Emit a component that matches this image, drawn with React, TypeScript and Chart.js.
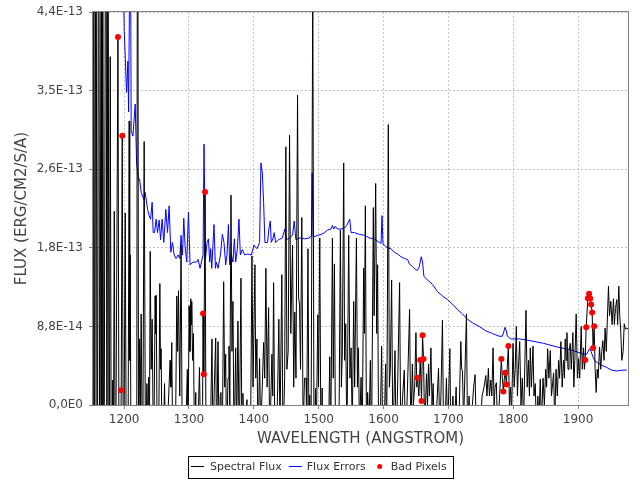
import React, { useEffect, useRef } from "react";
import { Chart, registerables } from "chart.js";

Chart.register(...registerables);

const FONT = "'DejaVu Sans', 'Liberation Sans', sans-serif";

const SERIES_NAMES = ["Spectral Flux", "Flux Errors", "Bad Pixels"];
const X_TITLE = "WAVELENGTH (ANGSTROM)";
const Y_TITLE = "FLUX (ERG/CM2/S/A)";

const X_MIN = 1152;
const X_MAX = 1977;
const X_TICKS = [1200, 1300, 1400, 1500, 1600, 1700, 1800, 1900];
// flux values below are in units of 1E-14 erg/cm2/s/A
const Y_MIN = 0;
const Y_MAX = 44;
const Y_TICKS = [0, 8.8, 17.6, 26.4, 35.2, 44];
const Y_TICK_LABELS = ["0,0E0", "8,8E-14", "1,8E-13", "2,6E-13", "3,5E-13", "4,4E-13"];

// [wavelength, flux]
const SPECTRAL_FLUX: [number, number][] = [
  [1152, -20], [1153.1, 80], [1154.5, -30], [1156.6, 80], [1158.5, -30], [1160.8, 80], [1162.5, -30],
  [1164.8, 80], [1165.8, -20], [1166.9, 80], [1168.5, -30], [1172, 80], [1173.5, -20], [1175.1, 80],
  [1176.8, -25], [1178.6, 39], [1180.5, -20], [1182.3, 2.8], [1183.3, -10], [1184.8, 21.7], [1186.5, -15],
  [1190.5, 41.2], [1192.5, -20], [1195.5, 1.66], [1197.1, 30.2], [1199, -15], [1201.7, 21.5], [1203.5, -10],
  [1205.8, -10], [1207.8, 31.8], [1208.6, 5], [1209.4, 16.8], [1211, -15], [1219.2, -20], [1220.8, 80],
  [1222.3, -10], [1223.8, 7.4], [1225, 0], [1226.3, 10.2], [1228.5, -10], [1230.9, 29.5], [1233, -8],
  [1235.1, 2.4], [1236.5, -3], [1237.7, 3.1], [1239, -5], [1240.2, 17.2], [1241.7, 4], [1243.2, 9.6],
  [1245.5, -8], [1247.8, 12.2], [1248.6, 8], [1249.4, 12.3], [1251.5, -10], [1253.5, -2], [1255.1, 13.6],
  [1256.1, 4], [1257.1, 6.3], [1259, -10], [1262.3, 2.4], [1264, -5], [1267, -2], [1270.9, 5.0],
  [1272.2, 2], [1273.5, 7.0], [1275.5, -10], [1279, -5], [1281.2, 12.2], [1282.5, 6], [1283.8, 12.8],
  [1285.8, 1], [1287.8, 17.9], [1290, -10], [1295, -3], [1297.5, 4], [1298.5, -5], [1300.2, 11.1],
  [1301.5, 6], [1302.8, 11.9], [1303.5, 9], [1304.3, 11.6], [1305.5, 5], [1306.9, 8.0], [1308.5, -5],
  [1310.5, 1.4], [1312, -8], [1316.2, 4.2], [1318, -5], [1320.5, -8], [1321.7, 10.25], [1322.8, 3.43],
  [1324.8, 23.85], [1326.5, -10], [1329, -3], [1331, -8], [1333.3, -2], [1335.5, 7.4], [1337, -5],
  [1339, 2], [1341.2, 7.5], [1342.5, -5], [1344.8, 7.1], [1346.5, -5], [1348.2, 1], [1349.4, 1.4],
  [1351, -8], [1353.5, 13.8], [1355, 2], [1356.6, 5.7], [1358, -5], [1360.2, 3], [1361.7, 6.6],
  [1363, 0], [1364.8, 23.5], [1366.3, 6], [1367.8, 11.6], [1369.5, -5], [1372, 6.4], [1373.5, -3],
  [1375.5, 9.4], [1377.5, -5], [1380.2, 14.2], [1381.8, -8], [1383.2, 1.3], [1385, -5], [1389.4, 0.6],
  [1391, -5], [1395, -3], [1397.1, 16.7], [1398.8, 2], [1401.7, 15.7], [1403, 3], [1404.8, 7.4],
  [1406.5, -5], [1408.9, 5.2], [1410.5, -3], [1413, 2], [1415.1, 7.0], [1416.8, 3], [1418.6, 15.3],
  [1420.5, 2], [1422.8, 10.9], [1424.5, -5], [1426, 0], [1427.9, 5.7], [1429.2, 1], [1430.5, 13.7],
  [1432.5, -5], [1435, -3], [1436.8, 2], [1438.6, 9.6], [1440.3, -3], [1443.2, 14.6], [1445, -5],
  [1447.5, 3], [1449.4, 28.9], [1451, 4], [1453, 6], [1455.1, 30.2], [1457, 8], [1459.7, 17.9],
  [1461.5, 2], [1463.2, 10.4], [1465, 3], [1467.4, 34.7], [1469, 12], [1470.5, 11.3], [1472, 4],
  [1474, 21.0], [1476, -3], [1478.2, 3], [1480.5, 3], [1481.5, -2], [1483.5, 17.5], [1485, -3],
  [1486.3, 1.1], [1488, -8], [1490.9, 47], [1493, -10], [1495.1, 1.9], [1496.5, -3], [1498.6, 10.1],
  [1499.8, 2], [1501.7, 18.7], [1503.5, -5], [1505.4, 1.9], [1507, -8], [1510, -3], [1513, -6],
  [1515.5, -2], [1517.1, 5.4], [1518.5, -5], [1521.2, 18.7], [1522.5, 3], [1524.3, 15.8], [1526, -5],
  [1529, -2], [1531, -6], [1533.5, 19.6], [1535, 2], [1536.5, 6], [1538.6, 27.1], [1540, 5],
  [1541.7, 9.1], [1543.5, -5], [1546.3, 19.0], [1548.2, 3], [1550, 6.4], [1551.8, -3], [1554, 11.6],
  [1555.5, 2], [1558.2, 18.7], [1559.8, 2], [1561.2, 6.4], [1563, -3], [1565.4, 3.1], [1567, -5],
  [1569.4, 15.3], [1570.5, 8], [1572, 22.3], [1573.8, -5], [1575.5, 1.4], [1577.5, -3], [1579.7, 5.0],
  [1581.5, -5], [1584.3, 22.1], [1585.5, 10], [1587.9, 24.8], [1589.5, 8], [1590.9, 15.7], [1592.5, -5],
  [1595, -2], [1597.1, 6.6], [1599, -5], [1601, -3], [1603.2, 4.6], [1604.8, -5], [1607.4, 31.4],
  [1609, 2], [1610.5, 4], [1612.5, 14.0], [1614.5, -5], [1617.7, 6.1], [1619.5, -5], [1622, 3],
  [1624.8, 13.7], [1626.5, -3], [1629.5, 1], [1632, 3.9], [1634, -5], [1637, 2], [1640.2, 10.7],
  [1642, -3], [1644.5, 4.6], [1646, 0], [1648, 2], [1650, 8.1], [1651.3, 2], [1652.5, 3.06],
  [1654.5, 1], [1656.6, 5.05], [1658.6, 0.44], [1660.2, 7.82], [1661.7, 5.16], [1663.5, -3], [1666.3, 3.5],
  [1667.8, 0], [1669.4, 4.6], [1670.8, 1], [1673.1, 6.4], [1674.8, 0], [1676.6, 2.4], [1678.5, -5],
  [1681, -2], [1684.8, 4.1], [1686.8, -3], [1688.5, 1], [1690.9, 9.5], [1692.8, -5], [1695, -2],
  [1697, 3], [1699, -3], [1702.3, 6.3], [1704, -5], [1707, 1], [1709, -3], [1712, 2], [1714, -5],
  [1716, -3], [1719.2, 7.1], [1720.5, 4], [1721.7, 3.9], [1723.5, -2], [1727.9, 10.2], [1729.5, -3],
  [1732, 1], [1734, -4], [1737, 0], [1739, 2], [1741.2, 3.4], [1743, -3], [1746, -1], [1749, -3],
  [1752, 1], [1755, 2], [1757.7, 3.3], [1759.5, 1], [1761.7, 4.1], [1763.3, 1], [1765.4, 2.8],
  [1767, 1], [1768.9, 6.4], [1770.5, 0], [1772, 2], [1774, 2.5], [1776, -3], [1779, 1], [1781.7, 5.16],
  [1783.2, 3], [1784.8, 1.51], [1786.3, 3], [1787.8, 3.62], [1789.4, 2.29], [1792.5, 6.6], [1794.2, 0],
  [1796, 2], [1797.5, -1], [1799.7, 6.9], [1801.5, 2], [1803, 4], [1804.8, 8.8], [1806.5, 1],
  [1808, 4], [1810, 7.1], [1812, 0], [1814, 3], [1816, -2], [1819.7, 10.6], [1821.5, 2], [1823.5, 5],
  [1825, 1], [1826.3, 6.4], [1828, 2], [1830.5, 6.6], [1832, 1], [1834, 2.4], [1835.8, -3], [1838, 1],
  [1839.5, -2], [1841.7, 2.9], [1843.5, -2], [1846, 3], [1848, 0], [1850, 4], [1851.5, 2], [1853.1, 6.3],
  [1855, 3], [1857.1, 6.1], [1859, 1], [1862.3, 3.6], [1864, -2], [1866, 4], [1868, 1], [1870, 5],
  [1871.5, 3], [1873.5, 7.1], [1875.5, 2], [1877.5, 5], [1879, 3], [1880.2, 7.4], [1881.5, 5],
  [1882.8, 8.1], [1884.5, 4], [1886, 6], [1887.9, 6.9], [1889.5, 4], [1892, 8.1], [1893.5, 2],
  [1895, 5], [1897.1, 10.2], [1899, 3], [1900.8, 5.2], [1902.5, 3], [1904.8, 8.8], [1906.5, 4],
  [1908.5, 6.4], [1909.8, 4], [1911, 5.05], [1912.5, 8.7], [1915.1, 11.94], [1917.1, 12.46],
  [1918.6, 11.91], [1920.2, 11.24], [1921.7, 10.36], [1923.2, 6.38], [1924.8, 8.81], [1926.3, 4],
  [1927.9, 1.4], [1929.5, 4], [1931, 3], [1933.1, 6.5], [1935, 4], [1936.5, 6], [1938.2, 7.2],
  [1940, 5], [1941.7, 8.6], [1943.5, 6], [1946.9, 13.3], [1948.5, 10], [1950.5, 11.6], [1952.5, 9],
  [1954.6, 11.9], [1956, 9], [1957.7, 10.8], [1959.7, 11.8], [1961, 9], [1962.8, 13.3], [1964.3, 10],
  [1965.9, 8.1], [1967.5, 5], [1969.5, 6], [1971.2, 9.1], [1972.8, 8.5], [1975.3, 8.6], [1977, 8.5],
];

// [wavelength, flux error]
const FLUX_ERRORS: [number, number][] = [
  [1198.6, 60], [1199.2, 46], [1200.2, 41.8], [1203.8, 35.0], [1205.8, 38.5], [1206.9, 32.8],
  [1208.5, 48], [1210, 50], [1210.9, 30.7], [1213.5, 30.1], [1217.1, 33.7], [1219.2, 27.1],
  [1222.3, 25.2], [1223.8, 25.3], [1226.3, 23.8], [1230.5, 23.0], [1232.5, 23.8], [1236.2, 21.9],
  [1238.6, 21.2], [1240.8, 20.8], [1243.2, 22.7], [1244.8, 19.3], [1246.9, 19.3], [1249.4, 20.8],
  [1251.5, 19.3], [1254, 20.7], [1256.2, 18.5], [1258.6, 20.8], [1261.2, 18.2], [1264.3, 21.9],
  [1266.9, 19.3], [1269.4, 22.3], [1272, 17.1], [1274.6, 18.2], [1277.1, 16.8], [1280.2, 16.4],
  [1283.2, 16.8], [1285.8, 16.4], [1287.8, 19.0], [1290, 16.8], [1292, 20.9], [1294, 17.7],
  [1296.6, 16.0], [1299.2, 21.6], [1301.7, 15.7], [1306.3, 16.0], [1311.5, 16.0], [1314, 16.3],
  [1317.1, 15.3], [1321.7, 16.8], [1323.2, 29.2], [1325.4, 16.4], [1327.9, 18.2], [1330, 18.6],
  [1332, 16.0], [1333.5, 17.5], [1335.1, 15.3], [1338.6, 20.2], [1340.8, 15.3], [1342.3, 16.0],
  [1344.8, 15.3], [1348.5, 16.8], [1351.5, 19.1], [1354, 18.2], [1356.6, 15.7], [1358.6, 16.8],
  [1360.8, 20.2], [1362.8, 15.7], [1365.4, 16.8], [1367.8, 16.0], [1370, 18.6], [1372, 16.0],
  [1374.6, 17.5], [1377.1, 20.8], [1379.2, 16.8], [1382.3, 17.4], [1385.8, 16.8], [1390.5, 16.9],
  [1396.2, 16.8], [1400.2, 17.9], [1404.8, 17.5], [1408.9, 18.2], [1410.9, 27.1], [1413.1, 26.0],
  [1415.1, 22.7], [1417.1, 18.2], [1421.2, 18.2], [1423.2, 19.7], [1425.4, 20.6], [1426.9, 18.2],
  [1429.4, 18.6], [1431.5, 19.3], [1433.5, 18.2], [1438.2, 18.5], [1443.9, 18.7], [1447.9, 19.7],
  [1450, 18.5], [1455.1, 18.7], [1459.7, 19.0], [1462.3, 20.6], [1464.8, 18.5], [1470.5, 18.7],
  [1478.2, 18.6], [1485.8, 18.7], [1488.9, 19.0], [1490, 26.0], [1491.5, 18.8], [1498.6, 19.0],
  [1503.8, 19.1], [1508.9, 19.3], [1514, 19.6], [1519.2, 19.7], [1521.2, 20.1], [1523.2, 19.7],
  [1525.4, 20.0], [1528.9, 19.7], [1534.6, 19.7], [1539.7, 19.8], [1543.2, 20.1], [1547.9, 20.8],
  [1550, 19.3], [1555.1, 19.3], [1562.8, 19.1], [1570.5, 19.0], [1578.2, 18.7], [1585.8, 18.6],
  [1593.5, 18.2], [1596.2, 18.1], [1597.7, 21.2], [1599.2, 18.0], [1601.2, 17.9], [1606.3, 17.6],
  [1611.5, 17.5], [1616.6, 17.1], [1621.7, 16.9], [1626.9, 16.6], [1632, 16.4], [1637.1, 16.3],
  [1639.7, 15.8], [1644.8, 15.5], [1650, 15.1], [1652.5, 15.1], [1655.1, 15.5], [1658.2, 16.6],
  [1660.2, 16.0], [1662.3, 14.4], [1667.9, 14.0], [1675.5, 13.5], [1683.2, 12.7], [1690.9, 12.2],
  [1698.6, 11.8], [1706.3, 11.3], [1714, 10.7], [1721.7, 10.2], [1729.4, 9.6], [1737.1, 9.2],
  [1747.4, 8.8], [1757.7, 8.3], [1768, 8.0], [1778.2, 7.7], [1783.3, 7.7], [1785.9, 8.3],
  [1787.4, 8.7], [1789.4, 8.3], [1791, 7.7], [1796.2, 7.4], [1808.9, 7.4], [1826.3, 7.2],
  [1846.9, 6.9], [1867.4, 6.5], [1887.9, 6.2], [1908.5, 5.7], [1913.5, 5.7], [1917.7, 6.3],
  [1920.2, 6.0], [1922.8, 5.4], [1926.3, 4.9], [1935.1, 4.5], [1944.3, 4.2], [1952, 3.9],
  [1959.7, 3.8], [1967.4, 3.9], [1975.1, 3.9],
];

// [wavelength, flux]
const BAD_PIXELS: [number, number][] = [
  [1190.5, 41.2], [1197.1, 30.15], [1195.5, 1.66], [1324.8, 23.85], [1321.7, 10.25], [1322.8, 3.43],
  [1660.2, 7.82], [1656.6, 5.05], [1661.7, 5.16], [1652.5, 3.06], [1658.6, 0.44],
  [1781.7, 5.16], [1792.5, 6.6], [1787.8, 3.62], [1789.4, 2.29], [1784.8, 1.51],
  [1917.1, 12.46], [1915.1, 11.94], [1918.6, 11.91], [1920.2, 11.24], [1921.7, 10.36],
  [1912.5, 8.7], [1924.8, 8.81], [1923.2, 6.38], [1911, 5.05],
];

const toXY = (arr: [number, number][]) => arr.map(([x, y]) => ({ x, y }));

const outlinePlugin = {
  id: "plotOutline",
  afterDraw(chart: any) {
    const { ctx, chartArea } = chart;
    ctx.save();
    ctx.strokeStyle = "#808080";
    ctx.lineWidth = 1;
    ctx.strokeRect(
      Math.round(chartArea.left) - 0.5,
      Math.round(chartArea.top) - 0.5,
      Math.round(chartArea.right - chartArea.left) + 1,
      Math.round(chartArea.bottom - chartArea.top) + 1
    );
    ctx.restore();
  },
};

const legendPlugin = {
  id: "boxLegend",
  afterDraw(chart: any) {
    const ctx = chart.ctx;
    ctx.save();
    ctx.font = `11px ${FONT}`;
    const w = SERIES_NAMES.map((t) => ctx.measureText(t).width);
    const total = 3 + 13 + 6 + w[0] + 7 + 13 + 5 + w[1] + 14 + 11 + w[2] + 6;
    const left = Math.round(320 - total / 2);
    const top = 456;
    const h = 22;
    const cy = 467;
    ctx.fillStyle = "#ffffff";
    ctx.fillRect(left, top, total, h);
    ctx.strokeStyle = "#000000";
    ctx.lineWidth = 1;
    ctx.strokeRect(left + 0.5, top + 0.5, Math.round(total), h);
    ctx.textBaseline = "middle";
    ctx.textAlign = "left";
    let x = left + 3;
    ctx.beginPath();
    ctx.moveTo(x, cy - 0.5);
    ctx.lineTo(x + 13, cy - 0.5);
    ctx.strokeStyle = "#000000";
    ctx.stroke();
    x += 13 + 6;
    ctx.fillStyle = "#333333";
    ctx.fillText(SERIES_NAMES[0], x, cy);
    x += w[0] + 7;
    ctx.beginPath();
    ctx.moveTo(x, cy - 0.5);
    ctx.lineTo(x + 13, cy - 0.5);
    ctx.strokeStyle = "#0000ff";
    ctx.stroke();
    x += 13 + 5;
    ctx.fillStyle = "#333333";
    ctx.fillText(SERIES_NAMES[1], x, cy);
    x += w[1] + 14;
    ctx.beginPath();
    ctx.arc(x, cy - 0.5, 2.5, 0, Math.PI * 2);
    ctx.fillStyle = "#ff0000";
    ctx.fill();
    x += 11;
    ctx.fillStyle = "#333333";
    ctx.fillText(SERIES_NAMES[2], x, cy);
    ctx.restore();
  },
};

export default function App() {
  const canvasRef = useRef<HTMLCanvasElement | null>(null);

  useEffect(() => {
    const canvas = canvasRef.current;
    if (!canvas) return;
    const chart = new Chart(canvas, {
      type: "line",
      data: {
        datasets: [
          {
            label: SERIES_NAMES[2],
            data: toXY(BAD_PIXELS),
            showLine: false,
            pointRadius: 3,
            pointHoverRadius: 3,
            pointBackgroundColor: "#ff0000",
            pointBorderWidth: 0,
            borderColor: "#ff0000",
            order: 0,
          },
          {
            label: SERIES_NAMES[0],
            data: toXY(SPECTRAL_FLUX),
            borderColor: "#000000",
            borderWidth: 1,
            pointRadius: 0,
            tension: 0,
            fill: false,
            order: 1,
          },
          {
            label: SERIES_NAMES[1],
            data: toXY(FLUX_ERRORS),
            borderColor: "#0000ff",
            borderWidth: 1,
            pointRadius: 0,
            tension: 0,
            fill: false,
            order: 2,
          },
        ],
      },
      options: {
        animation: false,
        responsive: false,
        maintainAspectRatio: false,
        devicePixelRatio: 1,
        layout: { padding: { left: 0, right: 12, top: 7, bottom: 30 } },
        plugins: {
          legend: { display: false },
          tooltip: { enabled: false },
        },
        scales: {
          x: {
            type: "linear",
            min: X_MIN,
            max: X_MAX,
            afterBuildTicks: (s: any) => {
              s.ticks = X_TICKS.map((v) => ({ value: v }));
            },
            afterFit: (s: any) => {
              s.height = 45;
            },
            grid: {
              color: "#c4c4c4",
              lineWidth: 1,
              drawTicks: true,
              tickLength: 4,
              tickColor: "#808080",
              tickBorderDash: [],
            },
            border: { display: false, dash: [2, 2] },
            ticks: {
              color: "#444444",
              font: { family: FONT, size: 12 },
              padding: 4,
              maxRotation: 0,
              autoSkip: false,
              callback: (v: any) => String(v),
            },
            title: {
              display: true,
              text: X_TITLE,
              color: "#444444",
              font: { family: FONT, size: 15 },
              padding: { top: 2, bottom: 2 },
            },
          },
          y: {
            type: "linear",
            min: Y_MIN,
            max: Y_MAX,
            afterBuildTicks: (s: any) => {
              s.ticks = Y_TICKS.map((v) => ({ value: v }));
            },
            afterFit: (s: any) => {
              s.width = 93;
            },
            grid: {
              color: "#c4c4c4",
              lineWidth: 1,
              drawTicks: true,
              tickLength: 4,
              tickColor: "#808080",
              tickBorderDash: [],
            },
            border: { display: false, dash: [2, 2] },
            ticks: {
              color: "#444444",
              font: { family: FONT, size: 12, lineHeight: 1 },
              padding: 6,
              autoSkip: false,
              callback: (_v: any, i: number) => Y_TICK_LABELS[i],
            },
            title: {
              display: true,
              text: Y_TITLE,
              color: "#444444",
              font: { family: FONT, size: 15 },
              padding: { top: 13, bottom: 0 },
            },
          },
        },
      },
      plugins: [outlinePlugin, legendPlugin],
    } as any);
    return () => chart.destroy();
  }, []);

  return (
    <div style={{ position: "fixed", left: 0, top: 0, width: 640, height: 480, background: "#ffffff" }}>
      <canvas ref={canvasRef} width={640} height={480} style={{ width: 640, height: 480, display: "block" }} />
    </div>
  );
}
